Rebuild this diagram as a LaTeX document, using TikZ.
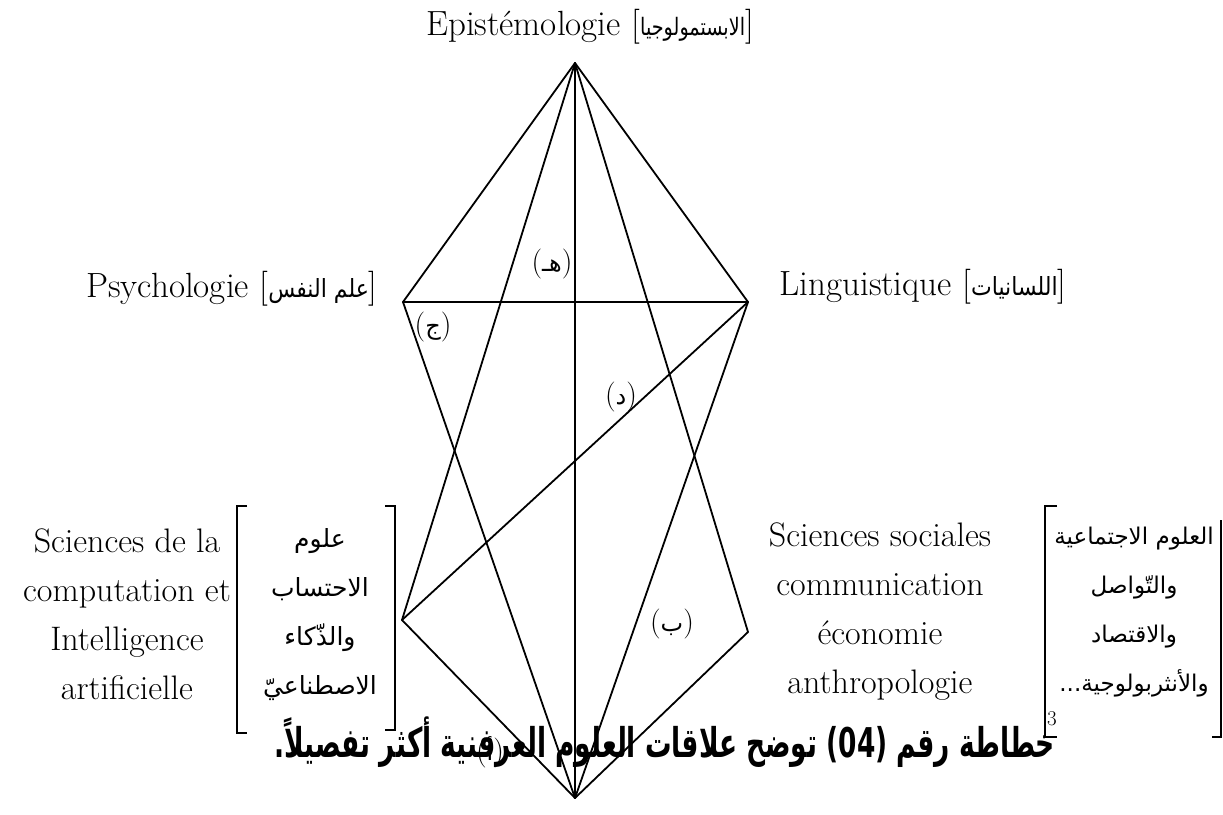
\documentclass[tikz,border=0pt]{standalone}
\usepackage{fontspec}
\usepackage{graphicx}
\newfontfamily\arabicfont[Script=Arabic]{DejaVu Sans}
\TeXXeTstate=1
\begin{document}
\begin{tikzpicture}[x=1pt,y=-1pt,
  edge/.style={line width=1.8pt, line join=round, line cap=round},
  brk/.style={line width=1.3pt},
  title/.style={anchor=base, inner sep=0pt, font=\fontsize{35}{40}\selectfont},
  frblock/.style={align=center, inner sep=0pt, font=\fontsize{34}{49}\selectfont},
  arblock/.style={align=center, inner sep=0pt},
  lbl/.style={inner sep=0pt, font=\fontsize{30}{34}\selectfont}]
\useasboundingbox (0,0) rectangle (1223,814);
% vertices
\coordinate (T) at (575,63);
\coordinate (P) at (403,302);
\coordinate (L) at (748,302);
\coordinate (C) at (402,620);
\coordinate (S) at (748,632);
\coordinate (B) at (575,798);
% connectors
\draw[edge] (T) -- (P);
\draw[edge] (T) -- (L);
\draw[edge] (T) -- (C);
\draw[edge] (T) -- (S);
\draw[edge] (T) -- (B);
\draw[edge] (P) -- (L);
\draw[edge] (P) -- (B);
\draw[edge] (L) -- (B);
\draw[edge] (L) -- (C);
\draw[edge] (C) -- (B);
\draw[edge] (S) -- (B);
% titles
\node[title] (epi) at (590,35) {Epistémologie [{\arabicfont\fontsize{24}{26}\selectfont\scalebox{0.8}[1]{الابستمولوجيا}}]};
\node[title] (psy) at (232,297) {Psychologie [{\arabicfont\fontsize{25}{26}\selectfont\scalebox{0.88}[1]{\beginR علم النفس\endR}}]};
\node[title] (lin) at (923,295) {Linguistique [{\arabicfont\fontsize{25}{26}\selectfont\scalebox{0.88}[1]{اللسانيات}}]};
% left group
\node[frblock] (comp) at (127,614) {Sciences de la\\computation et\\Intelligence\\artificielle};
\node[arblock, font=\arabicfont\fontsize{25}{49}\selectfont] (compar) at (320,615) {علوم\\الاحتساب\\والذّكاء\\الاصطناعيّ};
\coordinate (lb1) at (247,506);
\coordinate (lb2) at (237,506);
\coordinate (lb3) at (237,733);
\coordinate (lb4) at (247,733);
\draw[brk] (lb1) -- (lb2) -- (lb3) -- (lb4);
\coordinate (rb1) at (385,506);
\coordinate (rb2) at (395,506);
\coordinate (rb3) at (395,730);
\coordinate (rb4) at (385,730);
\draw[brk] (rb1) -- (rb2) -- (rb3) -- (rb4);
% right group
\node[frblock] (soc) at (880,612) {Sciences sociales\\communication\\économie\\anthropologie};
\node[arblock, font=\arabicfont\fontsize{23}{49}\selectfont] (socar) at (1134,612) {\beginR العلوم الاجتماعية\endR\\والتّواصل\\والاقتصاد\\\beginR والأنثربولوجية...\endR};
\coordinate (sb1) at (1057,506);
\coordinate (sb2) at (1045,506);
\coordinate (sb3) at (1045,737);
\coordinate (sb4) at (1057,737);
\draw[brk] (sb1) -- (sb2) -- (sb3) -- (sb4);
\coordinate (tb1) at (1221,520);
\coordinate (tb2) at (1221,737);
\coordinate (tb3) at (1212,737);
\draw[brk] (tb1) -- (tb2) -- (tb3);
% labels
\node[lbl] (lh) at (552,264) {({\arabicfont\fontsize{24}{26}\selectfont هـ})};
\node[lbl] (lj) at (433,327) {({\arabicfont\fontsize{24}{26}\selectfont ج})};
\node[lbl] (ld) at (621,397) {({\arabicfont\fontsize{24}{26}\selectfont د})};
\node[lbl] (lb) at (672,624) {({\arabicfont\fontsize{24}{26}\selectfont ب})};
\node[lbl] (la) at (490,752) {({\arabicfont\fontsize{24}{26}\selectfont أ})};
% caption
\node[inner sep=0pt, font=\arabicfont\bfseries\fontsize{41}{44}\selectfont] (cap) at (665,742) {\scalebox{0.645}[1]{\beginR خطاطة رقم \beginL(04)\endL{} توضح علاقات العلوم العرفنية أكثر تفصيلاً.\endR}};
\node[inner sep=0pt, font=\fontsize{21}{22}\selectfont] (fn) at (1052,719) {3};
\end{tikzpicture}
\end{document}
